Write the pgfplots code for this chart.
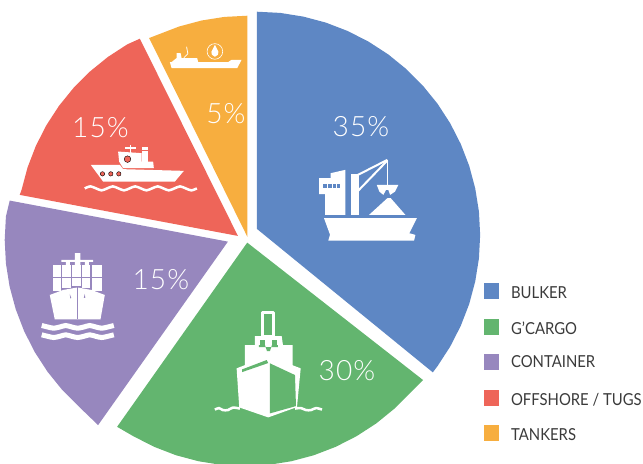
\documentclass[border=0pt]{standalone}
\usepackage{fontspec}
\setmainfont{Lato}
\newfontfamily\hand{Lato}[UprightFont=* Light,LetterSpace=4]
\newfontfamily\lgf{Lato}[FakeStretch=0.9]
\usepackage{pgfplots}
\pgfplotsset{compat=1.18}
\definecolor{cb}{HTML}{5E87C4}
\definecolor{cg}{HTML}{63B56F}
\definecolor{cp}{HTML}{9787BE}
\definecolor{cr}{HTML}{EE6559}
\definecolor{co}{HTML}{F7AE3F}
\definecolor{ct}{HTML}{3A3A3A}
\newcommand\poly[2]{\addplot[fill=#1,draw=none,no markers] coordinates {#2} --cycle;}
\newcommand\stroke[3]{\addplot[draw=#1,line width=#2,no markers,line join=round] coordinates {#3};}
\newcommand\wave[3]{\addplot[draw=#1,line width=#2,no markers,smooth] coordinates {#3};}
\newcommand\dotm[3]{\addplot[only marks,mark=*,mark size=#2,mark options={fill=#1,draw=none}] coordinates {#3};}
\tikzset{lg/.style={anchor=base west,inner sep=0pt,text=ct,font=\lgf\fontsize{16.5}{16.5}\selectfont},
  pc/.style={anchor=center,inner sep=0pt,text=white,font=\hand\fontsize{28}{28}\selectfont}}
\begin{document}
\begin{tikzpicture}
\begin{axis}[at={(0,0)},anchor=south west,scale only axis,width=643pt,height=463pt,
  xmin=0,xmax=643,ymin=0,ymax=463,y dir=reverse,axis lines=none]
% page frame, in white, so that the whole canvas is kept
\addplot[draw=white,line width=.4pt,no markers] coordinates {(.5,.5)(642.5,.5)(642.5,462.5)(.5,462.5)} --cycle;
% wedges
\poly{cb}{(257,229)(257,12)(280.3,13.2)(303.4,16.9)(325.9,22.9)(347.7,31.3)(368.5,41.9)(388.1,54.6)(406.2,69.3)(422.7,85.8)(437.4,103.9)(450.1,123.5)(460.7,144.3)(469.1,166.1)(475.1,188.6)(478.8,211.7)(480,235)(478.8,258.3)(475.1,281.4)(469.1,303.9)(460.7,325.7)(450.1,346.5)(437.4,366.1)(432.7,372.3)}
\poly{cg}{(247.3,242.7)(423,380)(410.7,392.2)(394.2,408.7)(376.1,423.4)(356.5,436.1)(335.7,446.7)(313.9,455.1)(291.4,461.1)(268.3,464.8)(245,466)(221.7,464.8)(198.6,461.1)(176.1,455.1)(154.3,446.7)(133.5,436.1)(117.3,426.7)}
\poly{cp}{(228,241.7)(98.3,425)(79.1,406.5)(62.5,389.9)(47.8,371.7)(35,352)(24.4,331.1)(16,309.2)(9.9,286.6)(6.2,263.4)(5,240)(6.2,216.6)(10,200.7)}
\poly{cr}{(238,236)(20,195)(21.8,190.1)(27.8,167.7)(36.1,146.1)(46.6,125.5)(59.2,106.1)(73.8,88.1)(90.1,71.8)(108.1,57.2)(127.5,44.6)(140,39)}
\poly{co}{(247.5,237)(149.3,38.3)(157.6,35.1)(179.2,26.8)(201.6,20.8)(224.4,17.2)(247.5,16)}
% bulker icon
\poly{white}{(324,218.3)(416.7,218.3)(409.3,233.3)(415.3,235)(414,240.7)(328.3,240.7)(330,234.7)}
\poly{white}{(319,178.3)(330.7,178.3)(330.7,173.3)(345.3,170)(345.3,215)(325,215)(325,194.3)(319,194.3)}
\poly{cb}{(323.3,184.3)(327.3,184.3)(327.3,188.3)(323.3,188.3)}
\poly{cb}{(328.3,184.3)(331.7,184.3)(331.7,188.3)(328.3,188.3)}
\poly{cb}{(332.7,184.3)(336,184.3)(336,188.3)(332.7,188.3)}
\poly{cb}{(336.7,184.3)(340,184.3)(340,188.3)(336.7,188.3)}
\poly{white}{(350.7,174)(359.3,174)(359.3,215)(350.7,215)}
\stroke{white}{2pt}{(356,176)(387.3,160)}
\stroke{white}{2pt}{(358,191)(387.3,160.7)}
\stroke{white}{1pt}{(387.3,160)(387.3,185)}
\poly{white}{(376.7,185)(398.3,185)(395,191.7)(390,195)(388.3,190)(386,190)(383.3,195)(379.3,191.7)}
\poly{white}{(369,215)(387.3,198.3)(390.7,198.3)(405.3,215)}
% general cargo icon
\addplot[draw=white,line width=3pt,no markers,line join=round] coordinates {(263,313)(274,313)(274,336)(263,336)} --cycle;
\poly{white}{(255,336)(281.7,336)(283,345)(292.7,345)(292.7,370)(245,370)(245,345)(255,345)}
\poly{cg}{(260,340)(265,340)(265,345)(260,345)}
\poly{cg}{(272,340)(277,340)(277,345)(272,345)}
\poly{cg}{(265,345)(267,351)(270,351)(272,345)(278,345)(278,347)(259,347)(259,345)}
\poly{white}{(236.7,368.3)(268.3,356)(300.7,368.3)(297,407)(268.3,417.3)(239.3,407.3)}
\poly{cg}{(242.3,369.3)(266.7,360)(268.3,363)(242.3,372)}
\poly{cg}{(270,363.3)(295,375)(296,406)(270,413.3)}
\wave{white}{2.5pt}{(215,409.5)(219,408)(223,410)(228,410)(233,407.5)(240,408.5)}
\wave{white}{2.5pt}{(295,408.5)(301,408)(306,410)(311,410)(316,408)(322,409.5)}
% container icon
\poly{white}{(75,253.3)(80.7,253.3)(80.7,260)(93.3,260)(93.3,262)(89,262)(89,265)(85,265)(85,262)(80.7,262)(80.7,265)(75,265)(75,262)(70,262)(70,265)(66,265)(66,262)(61.7,262)(61.7,260)(75,260)}
\poly{white}{(53.3,265)(61.5,265)(61.5,276.7)(53.3,276.7)}
\poly{white}{(62.7,265)(71.3,265)(71.3,276.7)(62.7,276.7)}
\poly{white}{(72.3,265)(81,265)(81,276.7)(72.3,276.7)}
\poly{white}{(82,265)(90.7,265)(90.7,276.7)(82,276.7)}
\poly{white}{(92,265)(102.3,265)(102.3,276.7)(92,276.7)}
\poly{white}{(53.3,277.7)(61.5,277.7)(61.5,291)(53.3,291)}
\poly{white}{(62.7,277.7)(71.3,277.7)(71.3,288)(62.7,288)}
\poly{white}{(72.3,277.7)(81,277.7)(81,286)(72.3,286)}
\poly{white}{(82,277.7)(90.7,277.7)(90.7,288)(82,288)}
\poly{white}{(92,277.7)(102.3,277.7)(102.3,291)(92,291)}
\poly{white}{(50,295)(63.3,290)(77.7,287.5)(91.7,290)(105,295)(100.7,319.3)(55,319.3)}
\stroke{cp}{1pt}{(77.7,287.5)(77.7,319.3)}
\poly{cp}{(70,294)(71.5,298)(70.5,298.5)}
\poly{cp}{(85,294)(84,298)(85.5,298)}
\wave{white}{5pt}{(42,325.5)(48,327)(54,328.2)(60,327)(66,325.5)(72,327)(78,328.2)(84,327)(90,325.5)(96,327)(102,328.2)(108,327)(114,325.5)}
\wave{white}{5pt}{(42,334.8)(48,336.3)(54,337.5)(60,336.3)(66,334.8)(72,336.3)(78,337.5)(84,336.3)(90,334.8)(96,336.3)(102,337.5)(108,336.3)(114,334.8)}
% offshore icon
\poly{white}{(91,165)(120,165)(123.3,169.3)(184,171)(175,181.7)(103.3,181.7)}
\dotm{cr}{2.2pt}{(102.7,174)(111,174)(119,174)}
\poly{white}{(118.3,151.7)(141.7,153.3)(141.7,161.7)(153.3,161.7)(154,168.3)(123.3,168.3)(119.3,161.7)}
\poly{white}{(141.7,146.7)(148.3,146.7)(148.3,161.7)(141.7,161.7)}
\stroke{cr}{1pt}{(141.7,150.5)(148.3,150.5)}
\stroke{white}{1.3pt}{(130.7,145)(130.7,155)}
\stroke{white}{1.3pt}{(125,148.3)(136,148.3)}
\dotm{cr}{3.3pt}{(127.7,159.3)}
\wave{white}{2.5pt}{(85,188.5)(90.6,186.5)(96.2,188.5)(101.8,190.5)(107.4,188.5)(113,186.5)(118.6,188.5)(124.2,190.5)(129.8,188.5)(135.4,186.5)(141,188.5)(146.6,190.5)(152.2,188.5)(157.8,186.5)(163.4,188.5)(169,190.5)(174.6,188.5)(180.2,186.5)(185.8,188.5)(191.4,190.5)(197,188.5)}
% tanker icon
\poly{white}{(170,62.3)(171.7,62.3)(176.7,58.3)(176.7,53.3)(180.7,53.3)(181.7,58.3)(197.3,58.3)(198.3,62.3)(228.3,62.3)(231.7,60)(241.7,60)(237.3,68.3)(171.7,68.3)}
\stroke{white}{.8pt}{(186.7,47)(188,54)(184,58)}
\addplot[only marks,mark=o,mark size=7.8pt,mark options={draw=white,line width=.6pt,fill=none}] coordinates {(215,51.7)};
\poly{white}{(215,45)(218.5,52)(218,55)(215,57)(212,55)(211.5,52)}
% legend swatches
\poly{cb}{(484,283.3)(499,283.3)(499,299)(484,299)}
\poly{cg}{(484,319.3)(499,319.3)(499,334.7)(484,334.7)}
\poly{cp}{(484,354.3)(499,354.3)(499,370)(484,370)}
\poly{cr}{(484,390)(499,390)(499,406)(484,406)}
\poly{co}{(484,425)(499,425)(499,440.7)(484,440.7)}
\node[lg] at (axis cs:510.7,298.3) {BULKER};
\node[lg] at (axis cs:510.7,334) {G’CARGO};
\node[lg] at (axis cs:510.7,367.7) {CONTAINER};
\node[lg] at (axis cs:510.7,405) {OFFSHORE / TUGS};
\node[lg] at (axis cs:510.7,440) {TANKERS};
\node[pc] at (axis cs:361,127) {35\%};
\node[pc] at (axis cs:347,371) {30\%};
\node[pc] at (axis cs:161,280) {15\%};
\node[pc] at (axis cs:100.7,128) {15\%};
\node[pc] at (axis cs:226,114) {5\%};
\end{axis}
\end{tikzpicture}
\end{document}
